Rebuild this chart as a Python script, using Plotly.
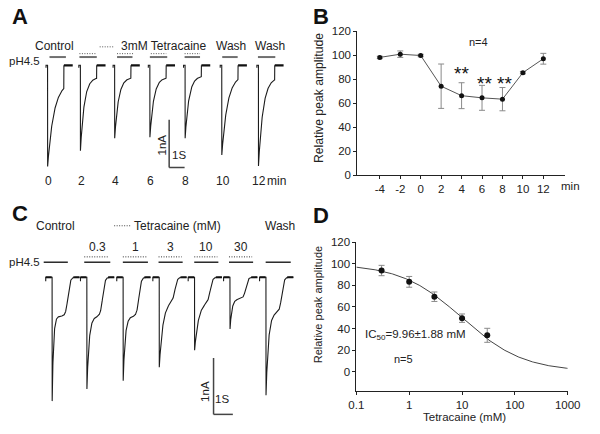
import numpy as np
import plotly.graph_objects as go

FONT = "Liberation Sans, Arial, Helvetica, sans-serif"
W, H = 600, 434
INK = "#222222"

# ======================= DATA =======================
# Panel A: pH 4.5 evoked currents recorded every 2 min; 3 mM tetracaine at 2-8 min
a_time_labels = ["0", "2", "4", "6", "8", "10", "12"]
a_peak_nA = [2.14, 1.82, 1.55, 1.53, 1.55, 1.90, 2.14]      # peak inward current
a_end_nA = [0.35, 0.25, 0.25, 0.25, 0.22, 0.20, 0.25]       # sustained current
a_tau_s = [0.41, 0.25, 0.25, 0.25, 0.25, 0.37, 0.30]        # desensitisation tau
a_tetracaine = [0, 1, 1, 1, 1, 0, 0]

# Panel B: relative peak amplitude over time (n=4)
b_time_min = [-4, -2, 0, 2, 4, 6, 8, 10, 12]
b_amp = [98.2, 100.9, 99.8, 74.2, 66.3, 64.5, 63.4, 85.5, 97.1]
b_err = [1.0, 2.7, 1.0, 18.5, 10.8, 10.4, 9.7, 1.0, 4.5]
b_sig = ["", "", "", "", "**", "**", "**", "", ""]

# Panel C: currents at increasing tetracaine concentrations
c_conc_labels = ["", "0.3", "1", "3", "10", "30", ""]
c_peak_nA = [2.29, 2.03, 1.88, 1.62, 1.31, 0.94, 2.14]
c_plateau_nA = [0.69, 0.69, 0.69, 0.41, 0.42, 0.38, 0.62]
c_tau_s = [0.066, 0.11, 0.10, 0.19, 0.21, 0.10, 0.125]
c_step_s = 0.82          # time of return to baseline after onset

# Panel D: concentration-response (n=5)
d_conc_mM = [0.3, 1, 3, 10, 30]
d_amp = [93.8, 83.3, 69.5, 49.6, 33.7]
d_err = [4.8, 5.0, 4.4, 3.9, 6.5]
d_ic50 = 9.96
d_hill = 0.75

# ======================= LAYOUT CONSTANTS =======================
A_PXS, A_PXNA, A_BASE = 16.0, 49.0, 61.0
a_onset_px = [41, 75, 110.5, 147, 183.5, 221.5, 259.5]
a_bar_px = [(43, 60), (74, 92), (113, 129), (147, 165), (183, 199), (222, 238), (259, 277)]
a_dot_px = [(74, 91), (113, 130), (148, 164), (183, 199)]
A_APP = 1.05

C_PXS, C_PXNA, C_BASE = 20.0, 58.0, 279.0
c_onset_px = [45.7, 81.7, 119.3, 156.7, 193.3, 230, 267.3]
c_bar_px = [(37, 62), (79, 106), (119, 145), (156, 181), (193, 218), (229, 254), (267, 293)]
c_dot_px = [(79, 104), (119, 144), (156, 180), (193, 217), (229, 253)]

DOT = "1px,1.5px"


def px(x, y):
    return x / W, 1 - y / H


fig = go.Figure()

# ---------------- Panel A traces ----------------
for i, (P, S, tau) in enumerate(zip(a_peak_nA, a_end_nA, a_tau_s)):
    t0 = a_onset_px[i] / A_PXS
    ta = np.linspace(0.004, A_APP, 160)
    ia = -((P - S) * np.exp(-ta / tau) + S)
    t = np.concatenate([[-0.1, -0.099, 0.0], ta, [A_APP + 0.008]])
    y = np.concatenate([[-0.05, 0.0, 0.0], ia, [0.0]])
    fig.add_trace(go.Scatter(x=t + t0, y=y, mode="lines", xaxis="x", yaxis="y",
                             line=dict(color="#1c1c1c", width=1.1), hoverinfo="skip"))
    fig.add_trace(go.Scatter(x=[t0 + A_APP + 0.008, t0 + A_APP + 0.58], y=[0, 0], mode="lines",
                             xaxis="x", yaxis="y", line=dict(color="#111", width=2.2),
                             hoverinfo="skip"))

# ---------------- Panel C traces ----------------
for i, (P, S, tau) in enumerate(zip(c_peak_nA, c_plateau_nA, c_tau_s)):
    t0 = c_onset_px[i] / C_PXS
    tc = np.linspace(0.004, 1.42, 320)
    ic = -((P - S) * np.exp(-tc / tau) + S) / (1 + np.exp((tc - c_step_s) / 0.06))
    t = np.concatenate([[-0.33, -0.329, 0.0], tc])
    y = np.concatenate([[-0.07, 0.0, 0.0], ic])
    fig.add_trace(go.Scatter(x=t + t0, y=y, mode="lines", xaxis="x3", yaxis="y3",
                             line=dict(color="#1c1c1c", width=1.1), hoverinfo="skip"))
    fig.add_trace(go.Scatter(x=[t0 - 0.33, t0 - 0.02], y=[0, 0], mode="lines",
                             xaxis="x3", yaxis="y3", line=dict(color="#111", width=2),
                             hoverinfo="skip"))
    fig.add_trace(go.Scatter(x=[t0 + 1.1, t0 + 1.42], y=[0, 0], mode="lines",
                             xaxis="x3", yaxis="y3", line=dict(color="#111", width=2),
                             hoverinfo="skip"))

# ---------------- Panel B ----------------
fig.add_trace(go.Scatter(
    x=b_time_min, y=b_amp, mode="lines+markers", xaxis="x2", yaxis="y2",
    line=dict(color="#555", width=1), marker=dict(color="#111", size=5),
    error_y=dict(type="data", array=b_err, color="#8a8a8a", thickness=1, width=3),
    hoverinfo="skip"))

# ---------------- Panel D ----------------
xc = np.logspace(-1, 3, 240)
yc = 100.0 / (1.0 + (xc / d_ic50) ** d_hill)
fig.add_trace(go.Scatter(x=xc, y=yc, mode="lines", xaxis="x4", yaxis="y4",
                         line=dict(color="#444", width=1), hoverinfo="skip"))
fig.add_trace(go.Scatter(
    x=d_conc_mM, y=d_amp, mode="markers", xaxis="x4", yaxis="y4",
    marker=dict(color="#111", size=6),
    error_y=dict(type="data", array=d_err, color="#8a8a8a", thickness=1, width=3),
    hoverinfo="skip"))

# ---------------- shapes ----------------
shapes = []


def hline_px(x0, x1, y, color, width, dash="solid"):
    p0, p1 = px(x0, y), px(x1, y)
    shapes.append(dict(type="line", xref="paper", yref="paper", x0=p0[0], y0=p0[1],
                       x1=p1[0], y1=p1[1], line=dict(color=color, width=width, dash=dash)))


for b0, b1 in a_bar_px:
    hline_px(b0, b1, 52.5, "#707070", 2)
for b0, b1 in a_dot_px:
    hline_px(b0, b1, 49, "#555", 1, DOT)
hline_px(95, 110, 42, "#555", 1, DOT)

for b0, b1 in c_bar_px:
    hline_px(b0, b1, 263.5, "#1a1a1a", 1.4)
for b0, b1 in c_dot_px:
    hline_px(b0, b1, 258, "#333", 1, DOT)
hline_px(110, 128, 226, "#444", 1, DOT)

# scale bars (1 nA, 1 s) drawn in data units
ax0 = 167 / A_PXS
ay0 = -(117 - A_BASE) / A_PXNA
shapes.append(dict(type="line", xref="x", yref="y", x0=ax0, x1=ax0, y0=ay0, y1=ay0 - 1,
                   line=dict(color="#444", width=1.5)))
shapes.append(dict(type="line", xref="x", yref="y", x0=ax0, x1=ax0 + 1, y0=ay0 - 1, y1=ay0 - 1,
                   line=dict(color="#444", width=1.5)))
cx0 = 213 / C_PXS
cy0 = -(362 - C_BASE) / C_PXNA
shapes.append(dict(type="line", xref="x3", yref="y3", x0=cx0, x1=cx0, y0=cy0, y1=cy0 - 1,
                   line=dict(color="#444", width=1.5)))
shapes.append(dict(type="line", xref="x3", yref="y3", x0=cx0, x1=cx0 + 1, y0=cy0 - 1, y1=cy0 - 1,
                   line=dict(color="#444", width=1.5)))

# ---------------- annotations ----------------
ann = []


def txt(x, y, s, size=12, anchor="center", angle=0, bold=False, color=INK):
    p = px(x, y)
    ann.append(dict(x=p[0], y=p[1], xref="paper", yref="paper", text=("<b>%s</b>" % s) if bold else s,
                    showarrow=False, xanchor=anchor, yanchor="middle", textangle=angle,
                    font=dict(family=FONT, size=size, color=color)))


# panel letters
txt(12.5, 11, "A", 22, bold=True, color="#111")
txt(324, 11, "B", 22, bold=True, color="#111")
txt(12.5, 213, "C", 22, bold=True, color="#111")
txt(324, 215, "D", 22, bold=True, color="#111")

# Panel A text
txt(48, 41, "Control", 12)
txt(115, 41, "3mM Tetracaine", 12, anchor="left")
txt(231, 41, "Wash", 12)
txt(271, 41, "Wash", 12)
txt(17, 57, "pH4.5", 11.5)
for i, lab in enumerate(a_time_labels):
    ann.append(dict(x=a_onset_px[i] / A_PXS + 0.05, y=px(0, 180)[1], xref="x", yref="paper",
                    text=lab, showarrow=False, xanchor="center", yanchor="middle",
                    font=dict(family=FONT, size=12, color=INK)))
txt(278, 180, "min", 12)
txt(160, 143, "1nA", 11.5, angle=-90)
txt(177, 153, "1S", 11.5)

# Panel C text
txt(49, 226, "Control", 12)
txt(129, 226, "Tetracaine (mM)", 12, anchor="left")
txt(282, 226, "Wash", 12)
txt(17, 263, "pH4.5", 11.5)
for (b0, b1), lab in zip(c_bar_px, c_conc_labels):
    if lab:
        txt((b0 + b1) / 2, 248, lab, 12)
txt(204, 396, "1nA", 11.5, angle=-90)
txt(222, 404, "1S", 11.5)

# Panel B text
txt(323, 95, "Relative peak amplitude", 12.2, angle=-90)
txt(583, 185, "min", 11.5)
txt(488, 37, "n=4", 11)
b_sig_x = [-4, -2, 0, 2, 4.0, 6.2, 8.2, 10, 12]
b_sig_y = [0, 0, 0, 0, 86.4, 77.8, 77.8, 0, 0]
for xs, ys, s in zip(b_sig_x, b_sig_y, b_sig):
    if s:
        ann.append(dict(x=xs, y=ys, xref="x2", yref="y2", text=s, showarrow=False,
                        xanchor="center", yanchor="middle", yshift=-2,
                        font=dict(family=FONT, size=19, color="#111")))

# Panel D text
txt(321, 307, "Relative peak amplitude", 11, angle=-90)
txt(473, 423, "Tetracaine (mM)", 11.5)
txt(368, 338, "IC<sub>50</sub>=9.96\u00b11.88 mM", 11.5, anchor="left")
txt(410, 363, "n=5", 11)

axis_common = dict(showline=True, linecolor="#222", linewidth=1, ticks="outside", ticklen=3,
                   tickcolor="#222", tickwidth=1, showgrid=False, zeroline=False,
                   tickfont=dict(family=FONT, size=11.5, color=INK))

fig.update_layout(
    width=W, height=H, margin=dict(l=0, r=0, t=0, b=0),
    paper_bgcolor="white", plot_bgcolor="white", showlegend=False,
    xaxis=dict(domain=[0, 0.5], range=[0, 300 / A_PXS], visible=False, anchor="y"),
    yaxis=dict(domain=[1 - 200 / H, 1 - 25 / H],
               range=[-(200 - A_BASE) / A_PXNA, (A_BASE - 25) / A_PXNA], visible=False, anchor="x"),
    xaxis2=dict(domain=[362 / W, 577 / W], range=[-6.2, 14.1], tickvals=b_time_min,
                ticktext=[str(v) for v in b_time_min], anchor="y2", **axis_common),
    yaxis2=dict(domain=[1 - 174 / H, 1 - 26 / H], range=[0, 120],
                tickvals=list(range(0, 121, 20)), anchor="x2", **axis_common),
    xaxis3=dict(domain=[0, 0.5], range=[0, 300 / C_PXS], visible=False, anchor="y3"),
    yaxis3=dict(domain=[0, 1 - 240 / H],
                range=[-(434 - C_BASE) / C_PXNA, (C_BASE - 240) / C_PXNA], visible=False, anchor="x3"),
    xaxis4=dict(type="log", domain=[361 / W, 580 / W], range=[-1, 3],
                tickvals=[0.1, 1, 10, 100, 1000], ticktext=["0.1", "1", "10", "100", "1000"],
                anchor="y4", **axis_common),
    yaxis4=dict(domain=[1 - 396 / H, 1 - 243 / H], range=[-18, 120],
                tickvals=list(range(0, 121, 20)), anchor="x4", **axis_common),
    shapes=shapes, annotations=ann,
)

fig.write_html(
    "out.html",
    config={"displayModeBar": False},
    post_script="document.body.style.margin='0';document.body.style.overflow='hidden';"
                "document.documentElement.style.overflow='hidden';",
)
